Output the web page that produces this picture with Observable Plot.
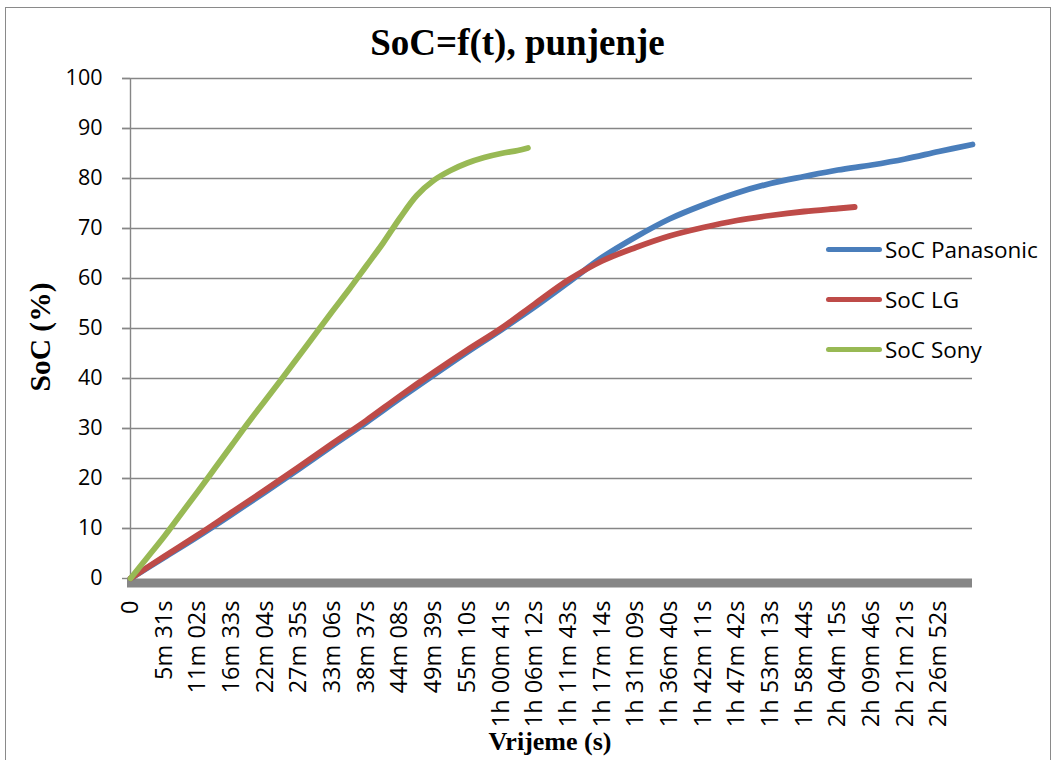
<!DOCTYPE html>
<html>
<head>
<meta charset="utf-8">
<script src="https://cdn.jsdelivr.net/npm/d3@7"></script>
<script src="https://cdn.jsdelivr.net/npm/@observablehq/plot@0.6"></script>
<style>
  html, body { margin: 0; padding: 0; background: #fff; }
  #wrap { position: relative; width: 1059px; height: 760px; overflow: hidden; }
  #border { position: absolute; left: 5px; top: 7px; width: 1046px; height: 800px; border: 1.5px solid #8a8a8a; box-sizing: border-box; }
  #chart { position: absolute; left: 0; top: 0; }
  .serif { font-family: "Liberation Serif", "Times New Roman", serif; font-weight: bold; color: #000; position: absolute; white-space: nowrap; }
  #title { left: 0; width: 1035px; text-align: center; top: 24px; font-size: 37px; line-height: 37px; }
  #xtitle { left: 450px; width: 200px; text-align: center; top: 729px; font-size: 26px; line-height: 26px; }
  #ytitle { left: 40px; top: 337px; font-size: 29.5px; line-height: 29px; transform: translate(-50%, -50%) rotate(-90deg); }
  #legend { position: absolute; left: 826px; top: 224px; font-family: "Open Sans", sans-serif; font-size: 22.5px; color: #000; }
  .item { display: flex; align-items: center; height: 50px; }
  .swatch { width: 56px; height: 5px; border-radius: 3px; margin-right: 3px; }
</style>
</head>
<body>
<div id="wrap">
  <div id="border"></div>
  <div id="chart"></div>
  <div id="title" class="serif">SoC=f(t), punjenje</div>
  <div id="xtitle" class="serif">Vrijeme (s)</div>
  <div id="ytitle" class="serif">SoC (%)</div>
  <div id="legend"></div>
</div>
<script>
// x tick labels (category axis)
const tickLabels = ["0","5m 31s","11m 02s","16m 33s","22m 04s","27m 35s","33m 06s","38m 37s","44m 08s","49m 39s","55m 10s","1h 00m 41s","1h 06m 12s","1h 11m 43s","1h 17m 14s","1h 31m 09s","1h 36m 40s","1h 42m 11s","1h 47m 42s","1h 53m 13s","1h 58m 44s","2h 04m 15s","2h 09m 46s","2h 21m 21s","2h 26m 52s"];
const yTicks = [0,10,20,30,40,50,60,70,80,90,100];

// series: category position (in tick-label units) and SoC (%)
const panasonicPos = [0,1,2,3,4,5,6,7,8,9,10,11,12,13,14,15,16,17,18,19,20,21,22,23,24,25];
const panasonicSoC = [0,4.2,8.4,12.8,17.3,21.9,26.6,31.2,36,40.7,45.3,49.7,54.3,59.2,64.2,68.3,71.9,74.7,77.1,79,80.4,81.7,82.7,83.9,85.4,86.8];

const lgPos = [0,1,2,3,4,5,6,7,8,9,10,11,12,13,14,15,16,17,18,19,20,21,21.5];
const lgSoC = [0,4.4,8.7,13.2,17.7,22.3,27,31.6,36.5,41.2,45.7,50,54.9,59.7,63.5,66.2,68.5,70.2,71.6,72.6,73.4,74,74.3];

const sonyPos = [0,0.5,1,1.5,2,2.5,3,3.5,4,4.5,5,5.5,6,6.5,7,7.5,8,8.5,9,9.5,10,10.5,11,11.5,11.8];
const sonySoC = [0,4.2,8.4,12.9,17.4,22,26.6,31.2,35.6,40,44.5,49,53.5,57.9,62.5,67.1,72.1,76.6,79.6,81.6,83.1,84.2,85,85.6,86.1];

const seriesNames = ["SoC Panasonic","SoC LG","SoC Sony"];
const seriesColors = ["#4A7EBB","#BE4B48","#98B954"];

const toRows = (pos, vals, name) => pos.map((p, i) => ({x: p, y: vals[i], name}));
const rowsP = toRows(panasonicPos, panasonicSoC, seriesNames[0]);
const rowsL = toRows(lgPos, lgSoC, seriesNames[1]);
const rowsS = toRows(sonyPos, sonySoC, seriesNames[2]);

const grid = "#868686";
const tickIdx = tickLabels.map((_, i) => i);

const chart = Plot.plot({
  width: 1059,
  height: 760,
  marginLeft: 130,
  marginRight: 87,
  marginTop: 78,
  marginBottom: 182,
  style: {fontFamily: "Open Sans, sans-serif", fontSize: "21px", color: "#000", background: "transparent"},
  x: {domain: [0, 25]},
  y: {domain: [0, 100]},
  marks: [
    Plot.ruleY(yTicks.slice(1), {stroke: grid, strokeWidth: 1.4, insetLeft: -8}),
    Plot.ruleX([0], {stroke: grid, strokeWidth: 1.4}),
    Plot.axisY({ticks: yTicks, tickSize: 8, tickPadding: 20, label: null, stroke: grid, strokeWidth: 1.4, fontSize: 21.5}),
    Plot.ruleY([0], {stroke: "#868686", strokeWidth: 9, dy: 4.5, insetLeft: -3}),
    Plot.line(rowsP, {x: "x", y: "y", stroke: seriesColors[0], strokeWidth: 5.8, curve: "catmull-rom", strokeLinecap: "round"}),
    Plot.line(rowsL, {x: "x", y: "y", stroke: seriesColors[1], strokeWidth: 5.8, curve: "catmull-rom", strokeLinecap: "round"}),
    Plot.line(rowsS, {x: "x", y: "y", stroke: seriesColors[2], strokeWidth: 5.8, curve: "catmull-rom", strokeLinecap: "round"}),
    Plot.axisX({ticks: tickIdx, tickFormat: i => tickLabels[i], tickRotate: -90, tickSize: 0, tickPadding: 22, label: null, fontSize: 23.5})
  ]
});
document.getElementById("chart").appendChild(chart);

const legend = document.getElementById("legend");
seriesNames.forEach((n, i) => {
  const row = document.createElement("div");
  row.className = "item";
  const sw = document.createElement("span");
  sw.className = "swatch";
  sw.style.background = seriesColors[i];
  const t = document.createElement("span");
  t.textContent = n;
  row.appendChild(sw);
  row.appendChild(t);
  legend.appendChild(row);
});
</script>
</body>
</html>
